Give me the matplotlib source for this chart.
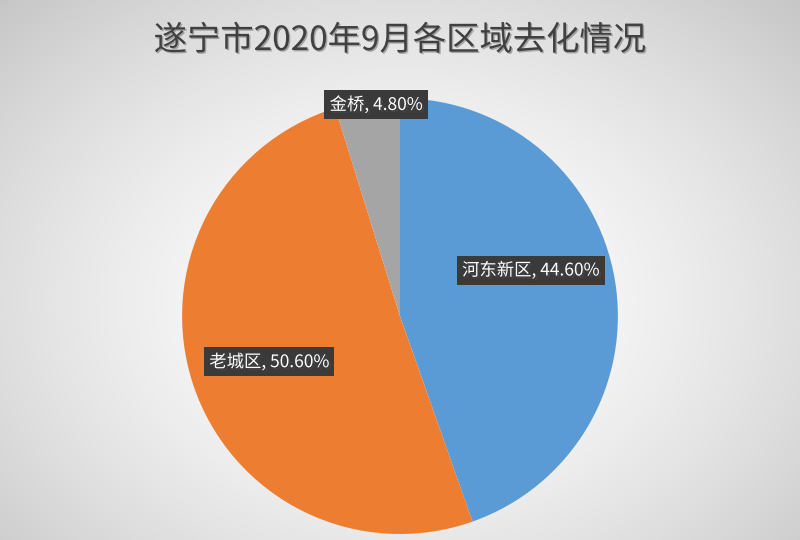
import numpy as np
import matplotlib.pyplot as plt
import matplotlib.patheffects as pe

plt.rcParams['font.family'] = ['Noto Sans CJK SC', 'DejaVu Sans']

# data
regions = ['河东新区', '老城区', '金桥']
shares = [44.6, 50.6, 4.8]
colors = ['#5B9BD5', '#ED7D31', '#A5A5A5']
title = '遂宁市2020年9月各区域去化情况'

fig = plt.figure(figsize=(8, 5.4), dpi=100)

# background radial gradient
bg = fig.add_axes([0, 0, 1, 1])
yy, xx = np.mgrid[0:540, 0:800]
r = np.sqrt(((xx - 400) / 560.0) ** 2 + ((yy - 300) / 420.0) ** 2)
shade = np.clip(1.0 - 0.22 * r ** 1.6, 0, 1)
bg.imshow(np.dstack([shade, shade, shade]), extent=[0, 800, 540, 0], aspect='auto')
bg.set_xlim(0, 800)
bg.set_ylim(540, 0)
bg.axis('off')

# pie
ax = fig.add_axes([0.2275, 0.0111, 0.545, 0.807])
wedges, _ = ax.pie(shares, colors=colors, startangle=90, counterclock=False,
                   wedgeprops=dict(linewidth=0))
ax.set_xlim(-1, 1)
ax.set_ylim(-1, 1)
ax.set_aspect('equal')

label_pos = [(0.60, 0.21), (-0.60, -0.21), (-0.11, 0.97)]
for name, val, (lx, ly) in zip(regions, shares, label_pos):
    ax.text(lx, ly, f'{name}, {val:.2f}%', ha='center', va='center', fontsize=12.5,
            color='white',
            bbox=dict(boxstyle='square,pad=0.3', fc='#3a3a3a', ec='none'),
            path_effects=[pe.withSimplePatchShadow(offset=(1.5, -1.5), alpha=0.5)])

fig.text(0.5, 0.925, title, ha='center', va='center', fontsize=24, color='#404040',
         path_effects=[pe.withSimplePatchShadow(offset=(1, -1), alpha=0.3)])

fig.savefig('out.png', dpi=100)
